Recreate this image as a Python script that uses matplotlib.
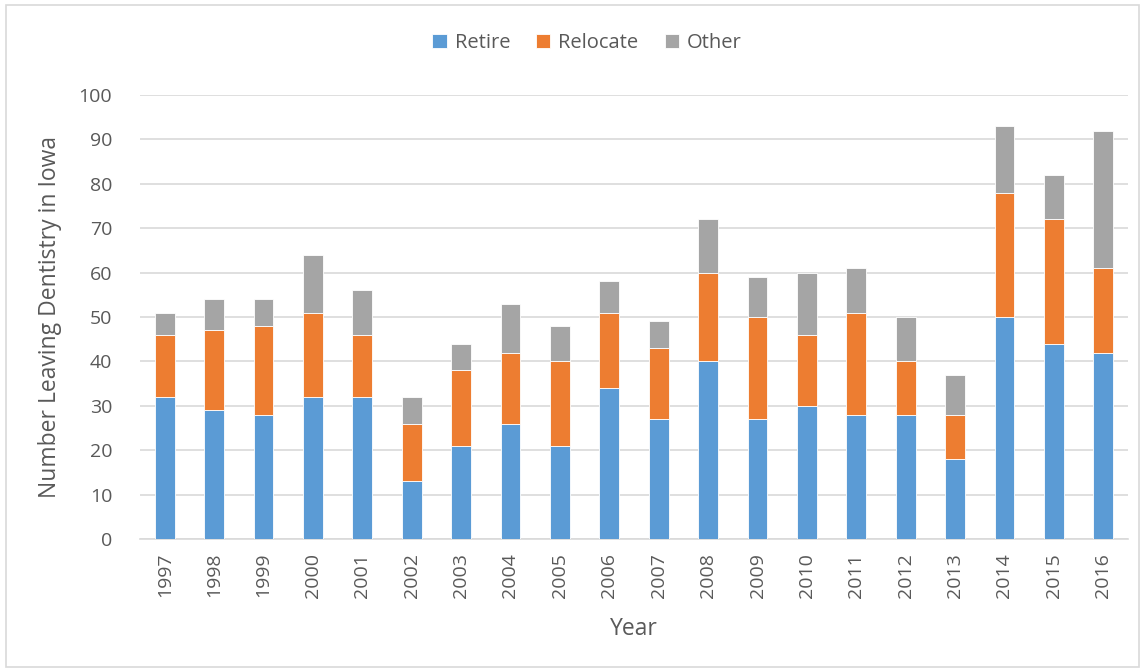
import matplotlib
matplotlib.use('Agg')
import matplotlib.pyplot as plt
import numpy as np

plt.rcParams['font.family'] = ['Open Sans', 'DejaVu Sans']

# data
years = ['1997', '1998', '1999', '2000', '2001', '2002', '2003', '2004', '2005', '2006',
         '2007', '2008', '2009', '2010', '2011', '2012', '2013', '2014', '2015', '2016']
retire = [32, 29, 28, 32, 32, 13, 21, 26, 21, 34, 27, 40, 27, 30, 28, 28, 18, 50, 44, 42]
relocate = [14, 18, 20, 19, 14, 13, 17, 16, 19, 17, 16, 20, 23, 16, 23, 12, 10, 28, 28, 19]
other = [5, 7, 6, 13, 10, 6, 6, 11, 8, 7, 6, 12, 9, 14, 10, 10, 9, 15, 10, 31]

text_col = '#595959'
grid_col = '#D9D9D9'

fig = plt.figure(figsize=(11.45, 6.72), dpi=100)
ax = fig.add_axes([140 / 1145, 1 - 539 / 672, 988 / 1145, 444 / 672])

x = np.arange(len(years))
w = 0.4
bottom2 = np.array(retire)
bottom3 = bottom2 + np.array(relocate)
ax.bar(x, retire, w, color='#5B9BD5', edgecolor='white', linewidth=0.6, label='Retire', zorder=3)
ax.bar(x, relocate, w, bottom=bottom2, color='#ED7D31', edgecolor='white', linewidth=0.6, label='Relocate', zorder=3)
ax.bar(x, other, w, bottom=bottom3, color='#A5A5A5', edgecolor='white', linewidth=0.6, label='Other', zorder=3)

ax.set_xlim(-0.5, len(years) - 0.5)
ax.set_ylim(0, 100)
ax.set_yticks(range(0, 101, 10))
ax.set_xticks(x)
ax.set_xticklabels(years, rotation=90)
ax.yaxis.grid(True, color=grid_col, linewidth=1.2, zorder=0)
for s in ['top', 'right', 'left']:
    ax.spines[s].set_visible(False)
ax.spines['bottom'].set_color(grid_col)
ax.spines['bottom'].set_linewidth(1.2)
ax.tick_params(axis='both', length=0, labelsize=14, colors=text_col, pad=10)
ax.tick_params(axis='y', pad=20)

ax.set_xlabel('Year', fontsize=16.5, color=text_col, labelpad=14)
ax.set_ylabel('Number Leaving Dentistry in Iowa', fontsize=16.5, color=text_col, labelpad=12)

leg = fig.legend(loc='center', bbox_to_anchor=(587 / 1145, 1 - 43 / 672), ncol=3, frameon=False,
                 fontsize=14.5, handlelength=0.7, handleheight=0.7, handletextpad=0.4,
                 columnspacing=1.3)
for t in leg.get_texts():
    t.set_color(text_col)

# light border around the chart
fig.patches.append(plt.Rectangle((6 / 1145, 5 / 672), 1 - 12 / 1145, 1 - 10 / 672,
                                 transform=fig.transFigure, fill=False,
                                 edgecolor='#D9D9D9', linewidth=1.2))

fig.savefig('out.png', dpi=100)
